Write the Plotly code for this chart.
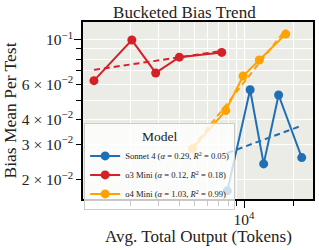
import numpy as np
import plotly.graph_objects as go

# ---- data ----
models = ["Sonnet 4", "o3 Mini", "o4 Mini"]
alpha_labels = ["0.29", "0.12", "1.03"]
r2_labels = ["0.05", "0.18", "0.99"]
colors = ["#1f6fb4", "#d62028", "#ffa200"]

sonnet_x = [7900, 10900, 13200, 16300, 22600]
sonnet_y = [0.0176, 0.0563, 0.0240, 0.0530, 0.0258]

o3_x = [1200, 2050, 2870, 4010, 7300]
o3_y = [0.0625, 0.0997, 0.0683, 0.0819, 0.0865]

o4_x = [4820, 7720, 9860, 12410, 18030]
o4_y = [0.0286, 0.0443, 0.0659, 0.0793, 0.1068]

y_tickvals = [0.02, 0.03, 0.04, 0.06, 0.1]
y_ticktext = ["2 × 10<sup>−2</sup>", "3 × 10<sup>−2</sup>", "4 × 10<sup>−2</sup>",
              "6 × 10<sup>−2</sup>", "10<sup>−1</sup>"]
y_minor = [0.05, 0.07, 0.08, 0.09]
x_tickvals = [10000]
x_ticktext = ["10<sup>4</sup>"]
x_minor = [2000, 3000, 4000, 5000, 6000, 7000, 8000, 9000, 20000]

xs = [sonnet_x, o3_x, o4_x]
ys = [sonnet_y, o3_y, o4_y]

FONT = "Liberation Serif"
fig = go.Figure()

for name, a, r2, c, x, y in zip(models, alpha_labels, r2_labels, colors, xs, ys):
    lx, ly = np.log10(x), np.log10(y)
    slope, icpt = np.polyfit(lx, ly, 1)
    fx = np.array([min(x), max(x)])
    fy = 10 ** (icpt + slope * np.log10(fx))
    fig.add_trace(go.Scatter(x=fx, y=fy, mode="lines",
                             line=dict(color=c, width=2, dash="6px,4px"),
                             showlegend=False, hoverinfo="skip"))
    fig.add_trace(go.Scatter(
        x=x, y=y, mode="lines+markers",
        name=f"{name} (<i>α</i> = {a}, <i>R</i><sup>2</sup> = {r2})",
        line=dict(color=c, width=2), marker=dict(color=c, size=9)))

# dummy trace for overlay axes (long major ticks)
fig.add_trace(go.Scatter(x=[], y=[], xaxis="x2", yaxis="y2", showlegend=False))

xr = [np.log10(1028), np.log10(26500)]
yr = [np.log10(0.01603), np.log10(0.1227)]

fig.update_layout(
    template="none",
    width=319, height=250,
    margin=dict(l=83, r=6, t=22, b=51),
    paper_bgcolor="white", plot_bgcolor="#ececE6",
    font=dict(family=FONT, color="#222", size=12),
    title=dict(text="Bucketed Bias Trend", x=0.578, xanchor="center",
               y=0.952, yanchor="middle", font=dict(size=17, family=FONT)),
    xaxis=dict(type="log", range=xr, tickmode="array", tickvals=x_tickvals,
               ticktext=x_ticktext, ticks="outside", ticklen=5, tickwidth=1,
               tickcolor="black", showline=True, linecolor="black", linewidth=1.5,
               mirror=True, gridcolor="white", gridwidth=1, automargin=False,
               ticklabelstandoff=1,
               minor=dict(tickmode="array", tickvals=x_minor, ticks="outside",
                          ticklen=5, tickcolor="black", showgrid=True,
                          gridcolor="white", gridwidth=1),
               tickfont=dict(size=15.5), zeroline=False),
    yaxis=dict(type="log", range=yr, tickmode="array", tickvals=y_tickvals,
               ticktext=y_ticktext, ticks="outside", ticklen=5, tickwidth=1,
               tickcolor="black", showline=True, linecolor="black", linewidth=1.5,
               mirror=True, gridcolor="white", gridwidth=1, automargin=False,
               minor=dict(tickmode="array", tickvals=y_minor, ticks="outside",
                          ticklen=5, tickcolor="black", showgrid=True,
                          gridcolor="white", gridwidth=1),
               title=dict(text="Bias Mean Per Test", standoff=4,
                          font=dict(size=17.5)),
               tickfont=dict(size=15.5), zeroline=False),
    xaxis2=dict(type="log", range=xr, overlaying="x", anchor="y", side="bottom",
                tickmode="array", tickvals=[10000], ticks="outside", ticklen=8,
                tickcolor="black", showticklabels=False, showgrid=False,
                zeroline=False, automargin=False),
    yaxis2=dict(type="log", range=yr, overlaying="y", anchor="x", side="left",
                tickmode="array", tickvals=[0.1], ticks="outside", ticklen=8,
                tickcolor="black", showticklabels=False, showgrid=False,
                zeroline=False, automargin=False),
    legend=dict(x=0.005, y=0.43, xanchor="left", yanchor="top",
                bgcolor="rgba(255,255,255,0.78)", bordercolor="#cccccc",
                borderwidth=1, font=dict(size=8.6, family=FONT),
                title=dict(text="Model", side="top center", font=dict(size=13.5)),
                itemwidth=30, tracegroupgap=0),
    annotations=[dict(text="Avg. Total Output (Tokens)", xref="paper", yref="paper",
                      x=0.5, y=-0.212, xanchor="center", yanchor="middle",
                      showarrow=False, font=dict(size=17, family=FONT))],
)

fig.write_html("out.html", config={"displayModeBar": False},
               post_script="document.body.style.margin='0';document.body.style.padding='0';")
